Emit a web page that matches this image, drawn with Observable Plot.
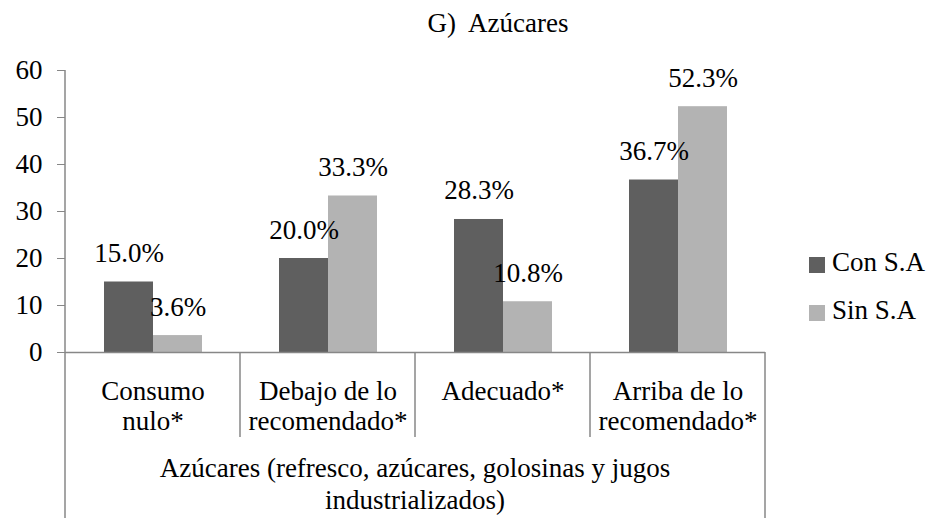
<!DOCTYPE html>
<html>
<head>
<meta charset="utf-8">
<script src="https://cdn.jsdelivr.net/npm/d3@7"></script>
<script src="https://cdn.jsdelivr.net/npm/@observablehq/plot@0.6"></script>
<style>
  html, body { margin: 0; padding: 0; background: #fff; }
  #chart { position: relative; width: 930px; height: 518px; font-family: "Liberation Serif", serif; color: #000; overflow: hidden; }
  #title { position: relative; height: 52px; }
  #title span { position: absolute; left: 498px; top: 10px; transform: translateX(-50%); font-size: 27px; line-height: 27px; white-space: pre; }
  .leg { position: absolute; left: 809px; font-size: 27px; line-height: 27px; white-space: nowrap; }
  .leg i { position: absolute; left: 0; width: 16px; height: 16px; }
  .leg span { position: absolute; left: 23px; top: 0; }
  #xlabel { position: absolute; left: 114px; width: 600px; top: 452px; text-align: center; font-size: 27px; line-height: 32px; }
</style>
</head>
<body>
<div id="chart">
  <div id="title"><span></span></div>
  <div id="plot"></div>
  <div id="legend"></div>
  <div id="xlabel"></div>
</div>
<script>
const title = "G)  Azúcares";
const categories = ["Consumo nulo*", "Debajo de lo recomendado*", "Adecuado*", "Arriba de lo recomendado*"];
const categoryLabels = ["Consumo\nnulo*", "Debajo de lo\nrecomendado*", "Adecuado*", "Arriba de lo\nrecomendado*"];
const series = ["Con S.A", "Sin S.A"];
const conSA = [15.0, 20.0, 28.3, 36.7];
const sinSA = [3.6, 33.3, 10.8, 52.3];
const yTicks = [0, 10, 20, 30, 40, 50, 60];
const xAxisLabel = ["Azúcares (refresco, azúcares, golosinas y jugos", "industrializados)"];
const colors = ["#5f5f5f", "#b3b3b3"];

const data = categories.flatMap((c, i) => [
  {cat: c, series: series[0], value: conSA[i]},
  {cat: c, series: series[1], value: sinSA[i]}
]);
const labelMap = Object.fromEntries(categories.map((c, i) => [c, categoryLabels[i]]));
const axisGray = "#878787";

const plot = Plot.plot({
  width: 930,
  height: 466,
  marginLeft: 63,
  marginRight: 164,
  marginTop: 18,
  marginBottom: 166,
  style: {fontFamily: "Liberation Serif, serif", fontSize: "27px", color: "#000", background: "transparent", overflow: "visible"},
  fx: {domain: categories, padding: 0, label: null},
  x: {domain: series, paddingInner: 0, paddingOuter: 0.757, axis: null},
  y: {domain: [0, 60], label: null},
  color: {domain: series, range: colors},
  marks: [
    Plot.barY(data, {fx: "cat", x: "series", y: "value", fill: "series", inset: 0}),
    Plot.ruleY([0], {stroke: axisGray, strokeWidth: 1.5}),
    Plot.text(data, {fx: "cat", x: "series", y: "value", text: d => d.value.toFixed(1) + "%", dy: -20, lineAnchor: "bottom", fontSize: 27, fill: "#000"}),
    Plot.axisY({ticks: yTicks, tickSize: 8, tickPadding: 15, stroke: axisGray, fill: "#000", label: null, fontSize: 27}),
    Plot.axisFx({anchor: "bottom", tickSize: 0, tickPadding: 26, lineHeight: 1.11, tickFormat: d => labelMap[d], label: null, fontSize: 27, fill: "#000"})
  ]
});
document.getElementById("plot").appendChild(plot);

// structural lines drawn from the scales
const fx = plot.scale("fx");
const y = plot.scale("y");
const svg = d3.select(plot);
const y0 = y.apply(0);
const yTop = y.apply(60);
const H = 466;
const left = fx.apply(categories[0]);
const right = fx.apply(categories[categories.length - 1]) + fx.bandwidth;
const g = svg.append("g").attr("stroke", axisGray).attr("stroke-width", 1.5);
g.append("line").attr("x1", left).attr("x2", left).attr("y1", yTop).attr("y2", H);
g.append("line").attr("x1", right).attr("x2", right).attr("y1", y0).attr("y2", H);
categories.slice(1).forEach(c => {
  const x = fx.apply(c);
  g.append("line").attr("x1", x).attr("x2", x).attr("y1", y0).attr("y2", y0 + 85);
});

document.querySelector("#title span").textContent = title;

const legend = document.getElementById("legend");
series.forEach((s, i) => {
  const row = document.createElement("div");
  row.className = "leg";
  row.style.top = (249 + i * 48) + "px";
  const sw = document.createElement("i");
  sw.style.background = colors[i];
  sw.style.top = "8px";
  const t = document.createElement("span");
  t.textContent = s;
  row.appendChild(sw);
  row.appendChild(t);
  legend.appendChild(row);
});

const xl = document.getElementById("xlabel");
xl.style.left = (left + right) / 2 - 300 + "px";
xl.innerHTML = xAxisLabel.join("<br>");
</script>
</body>
</html>
